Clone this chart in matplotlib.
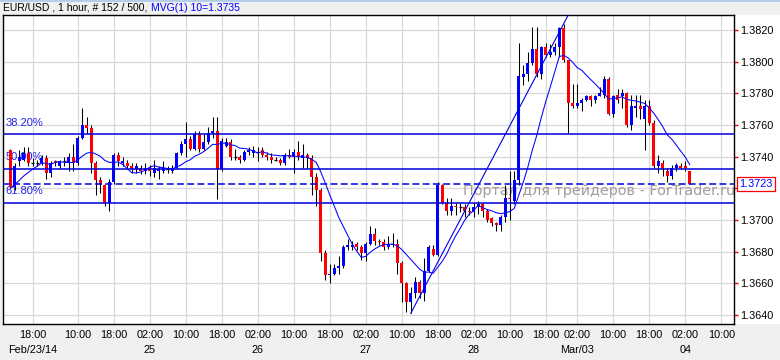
import numpy as np
import matplotlib
matplotlib.use("Agg")
import matplotlib.pyplot as plt
import matplotlib.transforms as mtransforms
from matplotlib.patches import Rectangle
from matplotlib.lines import Line2D

plt.rcParams['font.family'] = ['Liberation Sans', 'DejaVu Sans']

# ---------------- data ----------------
symbol_title = "EUR/USD , 1 hour, # 152 / 500, "
ma_title = "MVG(1) 10=1.3735"
ma_period = 10
first_index = 1

opens = [1.3744, 1.3721, 1.3737, 1.3738, 1.3742, 1.3736, 1.3736, 1.3736, 1.3739, 1.3730,
         1.3737, 1.3734, 1.3737, 1.3736, 1.3740, 1.3736, 1.3752, 1.3760, 1.3758, 1.3736,
         1.3725, 1.3722, 1.3711, 1.3724, 1.3741, 1.3736, 1.3736, 1.3734, 1.3732, 1.3733,
         1.3731, 1.3733, 1.3730, 1.3731, 1.3731, 1.3732, 1.3731, 1.3733, 1.3742, 1.3748,
         1.3751, 1.3745, 1.3754, 1.3745, 1.3749, 1.3755, 1.3756, 1.3732, 1.3747, 1.3749,
         1.3740, 1.3740, 1.3738, 1.3743, 1.3742, 1.3743, 1.3744, 1.3741, 1.3740, 1.3738,
         1.3738, 1.3736, 1.3741, 1.3740, 1.3743, 1.3739, 1.3741, 1.3739, 1.3727, 1.3719,
         1.3679, 1.3665, 1.3666, 1.3670, 1.3671, 1.3683, 1.3683, 1.3685, 1.3683, 1.3679,
         1.3685, 1.3691, 1.3687, 1.3686, 1.3683, 1.3684, 1.3685, 1.3673, 1.3660, 1.3648,
         1.3654, 1.3661, 1.3654, 1.3668, 1.3682, 1.3678, 1.3722, 1.3711, 1.3706, 1.3709,
         1.3708, 1.3708, 1.3706, 1.3705, 1.3708, 1.3710, 1.3706, 1.3701, 1.3698, 1.3697,
         1.3702, 1.3714, 1.3712, 1.3725, 1.3790, 1.3792, 1.3799, 1.3808, 1.3792, 1.3809,
         1.3804, 1.3806, 1.3809, 1.3821, 1.3801, 1.3774, 1.3772, 1.3774, 1.3776, 1.3778,
         1.3776, 1.3778, 1.3779, 1.3789, 1.3767, 1.3779, 1.3778, 1.3780, 1.3760, 1.3771,
         1.3772, 1.3764, 1.3772, 1.3761, 1.3734, 1.3736, 1.3731, 1.3728, 1.3733, 1.3734,
         1.3734, 1.3731]
highs = [1.3745, 1.3736, 1.3744, 1.3746, 1.3746, 1.3739, 1.3738, 1.3741, 1.3741, 1.3737,
         1.3738, 1.3738, 1.3740, 1.3742, 1.3748, 1.3753, 1.3771, 1.3765, 1.3760, 1.3737,
         1.3727, 1.3723, 1.3726, 1.3742, 1.3743, 1.3740, 1.3738, 1.3736, 1.3736, 1.3735,
         1.3736, 1.3735, 1.3738, 1.3734, 1.3737, 1.3734, 1.3735, 1.3743, 1.3750, 1.3762,
         1.3753, 1.3756, 1.3756, 1.3754, 1.3759, 1.3765, 1.3765, 1.3752, 1.3752, 1.3751,
         1.3745, 1.3741, 1.3744, 1.3746, 1.3747, 1.3746, 1.3746, 1.3743, 1.3742, 1.3740,
         1.3739, 1.3742, 1.3745, 1.3745, 1.3750, 1.3748, 1.3742, 1.3741, 1.3730, 1.3720,
         1.3681, 1.3672, 1.3672, 1.3677, 1.3684, 1.3688, 1.3687, 1.3686, 1.3684, 1.3686,
         1.3696, 1.3695, 1.3688, 1.3688, 1.3690, 1.3692, 1.3688, 1.3674, 1.3661, 1.3658,
         1.3664, 1.3662, 1.3676, 1.3684, 1.3684, 1.3724, 1.3723, 1.3714, 1.3714, 1.3711,
         1.3711, 1.3710, 1.3708, 1.3711, 1.3712, 1.3711, 1.3707, 1.3702, 1.3699, 1.3703,
         1.3722, 1.3731, 1.3731, 1.3812, 1.3798, 1.3806, 1.3822, 1.3822, 1.3810, 1.3812,
         1.3811, 1.3812, 1.3822, 1.3824, 1.3801, 1.3786, 1.3786, 1.3777, 1.3779, 1.3779,
         1.3779, 1.3784, 1.3791, 1.3790, 1.3779, 1.3783, 1.3783, 1.3781, 1.3779, 1.3779,
         1.3779, 1.3776, 1.3776, 1.3763, 1.3741, 1.3738, 1.3733, 1.3735, 1.3736, 1.3736,
         1.3737, 1.3731]
lows = [1.3720, 1.3719, 1.3734, 1.3737, 1.3734, 1.3734, 1.3734, 1.3735, 1.3726, 1.3727,
        1.3734, 1.3733, 1.3734, 1.3731, 1.3731, 1.3735, 1.3751, 1.3755, 1.3730, 1.3716,
        1.3717, 1.3709, 1.3706, 1.3723, 1.3734, 1.3734, 1.3733, 1.3730, 1.3730, 1.3729,
        1.3729, 1.3728, 1.3727, 1.3726, 1.3730, 1.3730, 1.3730, 1.3732, 1.3741, 1.3740,
        1.3744, 1.3744, 1.3743, 1.3744, 1.3748, 1.3752, 1.3713, 1.3731, 1.3746, 1.3738,
        1.3738, 1.3736, 1.3737, 1.3741, 1.3740, 1.3737, 1.3740, 1.3738, 1.3736, 1.3737,
        1.3735, 1.3735, 1.3739, 1.3730, 1.3738, 1.3733, 1.3733, 1.3716, 1.3709, 1.3674,
        1.3662, 1.3660, 1.3665, 1.3666, 1.3670, 1.3681, 1.3681, 1.3681, 1.3675, 1.3674,
        1.3684, 1.3684, 1.3684, 1.3681, 1.3682, 1.3683, 1.3666, 1.3648, 1.3642, 1.3641,
        1.3651, 1.3651, 1.3649, 1.3667, 1.3677, 1.3677, 1.3710, 1.3703, 1.3703, 1.3703,
        1.3705, 1.3702, 1.3703, 1.3702, 1.3704, 1.3702, 1.3699, 1.3696, 1.3693, 1.3693,
        1.3699, 1.3700, 1.3710, 1.3722, 1.3785, 1.3788, 1.3798, 1.3790, 1.3789, 1.3803,
        1.3803, 1.3804, 1.3803, 1.3800, 1.3755, 1.3771, 1.3771, 1.3769, 1.3775, 1.3772,
        1.3774, 1.3778, 1.3777, 1.3766, 1.3765, 1.3774, 1.3771, 1.3759, 1.3757, 1.3765,
        1.3764, 1.3744, 1.3760, 1.3733, 1.3730, 1.3728, 1.3724, 1.3726, 1.3731, 1.3732,
        1.3731, 1.3723]
closes = [1.3721, 1.3734, 1.3740, 1.3742, 1.3736, 1.3736, 1.3736, 1.3739, 1.3730, 1.3736,
          1.3736, 1.3737, 1.3737, 1.3740, 1.3736, 1.3752, 1.3760, 1.3758, 1.3736, 1.3725,
          1.3722, 1.3711, 1.3724, 1.3741, 1.3737, 1.3737, 1.3734, 1.3732, 1.3734, 1.3731,
          1.3733, 1.3731, 1.3733, 1.3732, 1.3733, 1.3732, 1.3733, 1.3742, 1.3748, 1.3751,
          1.3745, 1.3754, 1.3745, 1.3749, 1.3755, 1.3756, 1.3732, 1.3750, 1.3749, 1.3740,
          1.3740, 1.3738, 1.3743, 1.3744, 1.3744, 1.3743, 1.3741, 1.3740, 1.3738, 1.3738,
          1.3736, 1.3741, 1.3740, 1.3743, 1.3740, 1.3741, 1.3739, 1.3727, 1.3719, 1.3679,
          1.3665, 1.3666, 1.3670, 1.3671, 1.3683, 1.3684, 1.3684, 1.3683, 1.3679, 1.3685,
          1.3691, 1.3687, 1.3686, 1.3683, 1.3685, 1.3685, 1.3673, 1.3660, 1.3648, 1.3654,
          1.3661, 1.3654, 1.3668, 1.3683, 1.3678, 1.3722, 1.3711, 1.3706, 1.3709, 1.3708,
          1.3708, 1.3706, 1.3705, 1.3708, 1.3710, 1.3706, 1.3700, 1.3698, 1.3697, 1.3702,
          1.3714, 1.3713, 1.3725, 1.3791, 1.3792, 1.3799, 1.3808, 1.3792, 1.3809, 1.3804,
          1.3806, 1.3809, 1.3821, 1.3801, 1.3774, 1.3772, 1.3774, 1.3776, 1.3778, 1.3776,
          1.3778, 1.3780, 1.3789, 1.3767, 1.3778, 1.3776, 1.3780, 1.3760, 1.3772, 1.3772,
          1.3770, 1.3772, 1.3761, 1.3734, 1.3737, 1.3732, 1.3728, 1.3733, 1.3735, 1.3733,
          1.3733, 1.3723]
# closes of the bars just before the visible window (needed for the moving average)
prior_closes = [1.3712, 1.3713, 1.3714, 1.3714, 1.3715, 1.3717, 1.3719, 1.3732, 1.3744]

time_tick_pos = [6, 16, 24, 32, 40, 48, 56, 64, 72, 80, 88, 96, 104, 112, 120,
                 127, 135, 143, 151, 159]
time_tick_labels = ["18:00", "10:00", "18:00", "02:00", "10:00", "18:00", "02:00",
                    "10:00", "18:00", "02:00", "10:00", "18:00", "02:00", "10:00",
                    "18:00", "02:00", "10:00", "18:00", "02:00", "10:00"]
date_tick_pos = [6, 32, 56, 80, 104, 127, 151]
date_tick_labels = ["Feb/23/14", "25", "26", "27", "28", "Mar/03", "04"]
price_ticks = [1.3640, 1.3660, 1.3680, 1.3700, 1.3720, 1.3740, 1.3760, 1.3780,
               1.3800, 1.3820]

fib_low_index, fib_low = 90, 1.3641
fib_high_index, fib_high = 124, 1.3824
fib_ratios = [0.382, 0.500, 0.618]
fib_labels = ["38.20%", "50.00%", "61.80%"]
watermark = "Портал для трейдеров - ForTrader.ru"

# ---------------- figure ----------------
W, H = 780, 360
fig = plt.figure(figsize=(W / 100, H / 100), dpi=100, facecolor='#f0f0f0')
ax = fig.add_axes([3 / W, 36 / H, 731 / W, 309 / H])
ax.set_facecolor('white')
fig.patches.append(Rectangle((734 / W, 36 / H), 46 / W, 309 / H, transform=fig.transFigure,
                             facecolor='white', edgecolor='none', zorder=-5))
fig.add_artist(Line2D([0, 1], [1 - 0.8 / H] * 2, transform=fig.transFigure,
                      color='#a7c6ea', lw=1.2))

idx = np.arange(first_index, first_index + len(closes))
o = np.array(opens); h = np.array(highs); l = np.array(lows); c = np.array(closes)
up = c > o
dn = c < o
flat = c == o

BLUE = '#0000ff'
RED = '#ff0000'
bw = 0.64
ax.vlines(idx, l, h, color='black', lw=0.75, zorder=3)
ax.bar(idx[up], (c - o)[up], bottom=o[up], width=bw, color=BLUE, lw=0, zorder=4)
ax.bar(idx[dn], (o - c)[dn], bottom=c[dn], width=bw, color=RED, lw=0, zorder=4)
ax.hlines(c[flat], idx[flat] - bw / 2, idx[flat] + bw / 2, color='black', lw=0.9, zorder=4)

# moving average
all_c = np.array(prior_closes + closes)
ma = np.convolve(all_c, np.ones(ma_period) / ma_period, mode='valid')
ax.plot(idx, ma, color=BLUE, lw=0.75, zorder=6)

# fibonacci retracement
trans = mtransforms.blended_transform_factory(ax.transAxes, ax.transData)
rng = fib_high - fib_low
for r, lab in zip(fib_ratios, fib_labels):
    lvl = fib_high - r * rng
    ax.axhline(lvl, color='#0000d8', lw=1.1, zorder=5)
    ax.annotate(lab, xy=(0.003, lvl), xycoords=trans, xytext=(0, 8.3),
                textcoords='offset points', va='center', ha='left',
                color='#2222ee', fontsize=8, zorder=2)
ext = fib_high_index - fib_low_index
ax.plot([fib_low_index, fib_high_index + ext], [fib_low, fib_high + rng],
        color='#0000e0', lw=0.8, zorder=6)

# last price line & box
last_price = closes[-1]
ax.axhline(last_price, color='#0000e0', lw=1.1, ls=(0, (4.5, 2.2)), zorder=5)
ax.text(1.0072, last_price, f"{last_price:.4f}", transform=trans, ha='left', va='center',
        fontsize=7.8, color=BLUE, clip_on=False, zorder=20,
        bbox=dict(boxstyle='square,pad=0.18', fc='white', ec=RED, lw=0.9))

# watermark
ax.text(0.6293, 0.4300, watermark, transform=ax.transAxes, ha='left', va='center',
        fontsize=10.4, family='DejaVu Sans', color='#a39c9c', zorder=2.5, clip_on=False)

# axes
ax.set_xlim(-0.6, 161.84)
ax.set_ylim(1.363432, 1.382947)
ax.yaxis.tick_right()
ax.set_yticks(price_ticks)
ax.set_yticklabels([f"{v:.4f}" for v in price_ticks])
ax.tick_params(axis='y', length=3, width=1, color=RED, labelcolor='black',
               pad=1.6, labelsize=7.8)
ax.set_xticks(time_tick_pos)
ax.set_xticklabels(time_tick_labels)
ax.tick_params(axis='x', length=0, pad=4.3, labelsize=7.8, labelcolor='black')
xtr = mtransforms.blended_transform_factory(ax.transData, ax.transAxes)
for p, lab in zip(date_tick_pos, date_tick_labels):
    ax.text(p, -26 / 309, lab, transform=xtr, ha='center', va='center', fontsize=7.8,
            color='black', clip_on=False)
ax.grid(True, color='#d8d8d8', lw=0.9)
ax.set_axisbelow(True)
for s in ax.spines.values():
    s.set_color('black')
    s.set_linewidth(1.0)

# header
t1 = fig.text(3 / W, 1 - 8 / H, symbol_title, fontsize=7.5, va='center', ha='left',
              color='black')
fig.canvas.draw()
bb = t1.get_window_extent(renderer=fig.canvas.get_renderer())
fig.text(bb.x1 / W + 1 / W, 1 - 8 / H, ma_title, fontsize=7.5, va='center', ha='left',
         color=BLUE)

fig.savefig("out.png", dpi=100, facecolor=fig.get_facecolor())
